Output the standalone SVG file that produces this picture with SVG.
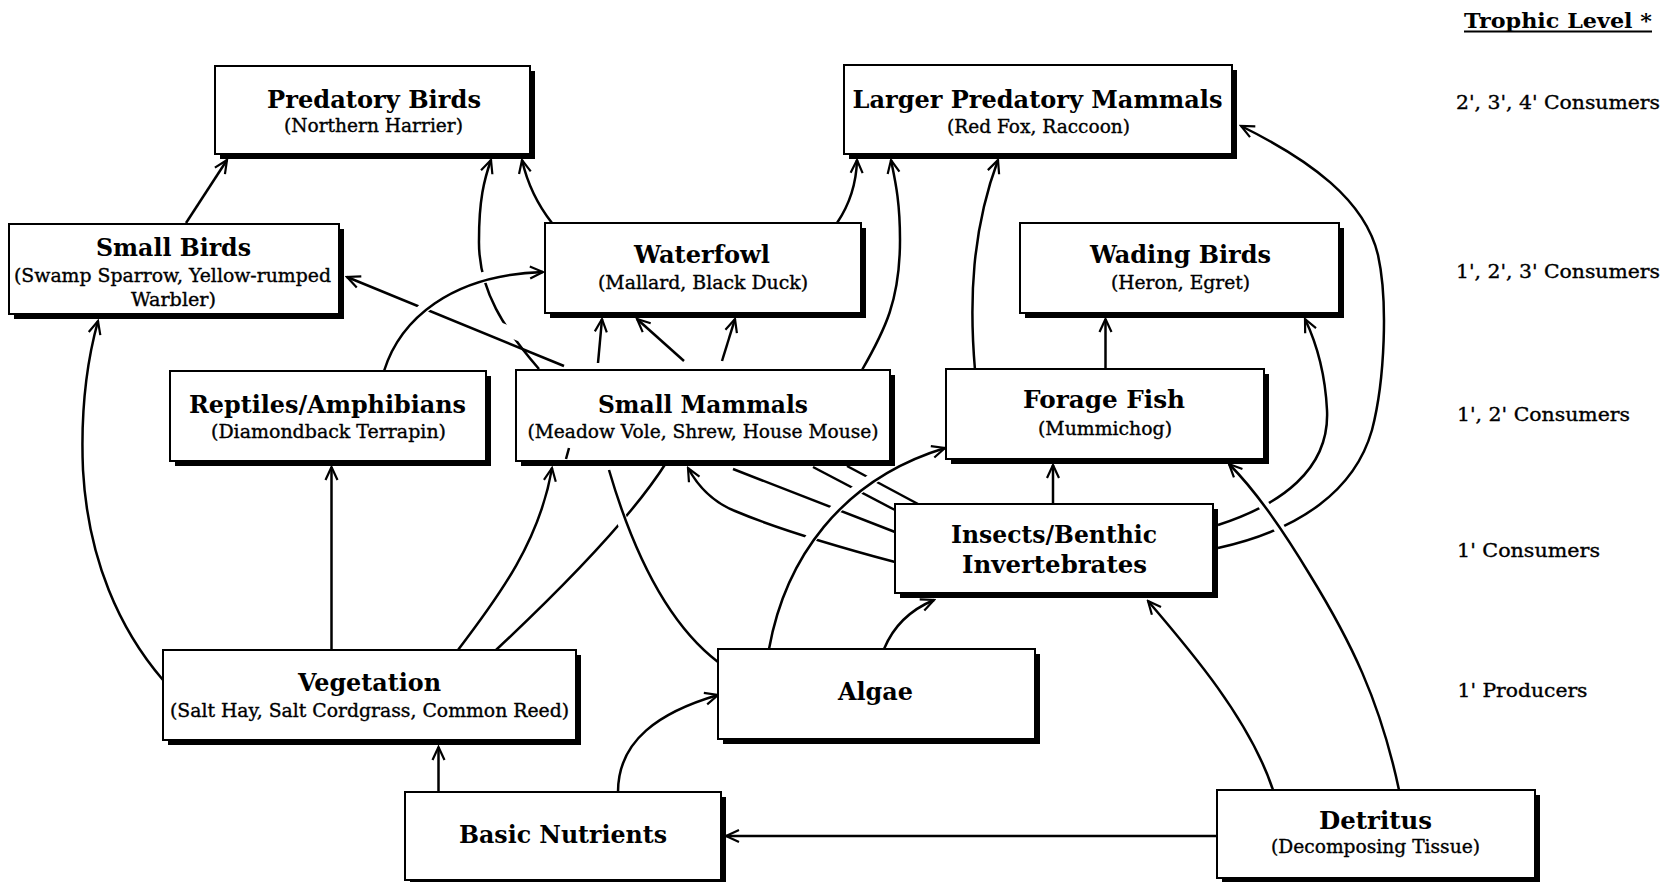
<svg xmlns="http://www.w3.org/2000/svg" width="1667" height="882" viewBox="0 0 1667 882">
<style>
.t{font-family:"DejaVu Serif","Liberation Serif",serif;font-weight:bold;font-size:24px;fill:#000}
.s{font-family:"DejaVu Serif","Liberation Serif",serif;font-size:17.8px;fill:#000;stroke:#000;stroke-width:0.35}
.r{font-family:"DejaVu Serif","Liberation Serif",serif;font-size:18.5px;fill:#000;stroke:#000;stroke-width:0.35}
.h{font-family:"DejaVu Serif","Liberation Serif",serif;font-weight:bold;font-size:19.5px;fill:#000}
.sh{fill:#000}
.bx{fill:#fff;stroke:#000;stroke-width:2}
.ln{fill:none;stroke:#000;stroke-width:2.5}
.ar{marker-end:url(#ah)}
.cas{fill:none;stroke:#fff;stroke-width:11}
</style>
<defs>
<marker id="ah" viewBox="-15 -8 17 16" refX="0" refY="0" markerWidth="17" markerHeight="16" orient="auto" markerUnits="userSpaceOnUse">
<path d="M-13,-6 L0,0 L-13,6" fill="none" stroke="#000" stroke-width="2.2"/>
</marker>
</defs>
<rect width="1667" height="882" fill="#fff"/>

<g id="connectors">
<path class="ln ar" d="M186,223 L227,160"/>
<path class="ln ar" d="M163,680 C120,630 88,560 83,470 C80,400 90,350 98,321"/>
<path class="ln ar" d="M539,369 C505,330 478,290 479,240 C479,200 484,180 491,160"/>
<path class="ln ar" d="M552,223 Q530,195 522,160"/>
<path class="ln ar" d="M598,363 L602,319"/>
<path class="ln ar" d="M684,361 L637,319"/>
<path class="ln ar" d="M722,361 L735,319"/>
<path class="ln ar" d="M837,223 Q856,195 857,160"/>
<path class="ln ar" d="M862,370 C885,330 900,300 900,240 C900,200 895,180 891,160"/>
<path class="ln ar" d="M975,370 C969,300 972,230 998,160"/>
<path class="ln ar" d="M1105.5,369 L1105.5,319"/>
<path class="ln ar" d="M1218,525 C1280,505 1330,470 1327,410 C1325,370 1315,340 1305,319"/>
<path class="ln ar" d="M1218,548 C1300,530 1355,490 1372,430 C1385,380 1388,300 1378,255 C1365,200 1310,160 1241,126"/>
<path class="ln ar" d="M1053,504 L1053,465"/>
<path class="ln ar" d="M1273,790 C1250,720 1190,650 1148,601"/>
<path class="ln ar" d="M1217,836 L726,836"/>
<path class="ln ar" d="M438.5,792 L438.5,747"/>
<path class="ln ar" d="M618,792 C618,740 660,712 718,695"/>
<path class="ln ar" d="M331.5,650 L331.5,467"/>
<path class="ln ar" d="M458,650 C500,595 540,540 552,468"/>
<path class="ln" d="M496,650 C560,590 630,520 666,463"/>
<path class="ln ar" d="M895,562 C850,550 780,530 735,511 C715,503 700,490 688,468"/>
<path class="ln" d="M895,532 L733,469"/>
<path class="ln" d="M895,510 L813,467"/>
<path class="ln" d="M918,504 L847,466"/>
<path class="cas" d="M520,336 L400,287"/>
<path class="ln ar" d="M564,366 L347,277"/>
<path class="cas" d="M395,345 C420,300 460,276 520,272"/>
<path class="ln ar" d="M384,371 C400,320 450,275 543,272"/>
<path class="cas" d="M700,645 Q650,606 615,500"/>
<path class="ln" d="M718,662 Q650,610 609,470"/>
<path class="cas" d="M785,590 C800,540 850,480 920,455"/>
<path class="ln ar" d="M769,649 C785,560 840,480 945,448"/>
<path class="cas" d="M1340,650 C1320,600 1290,540 1260,500"/>
<path class="ln ar" d="M1399,790 C1380,700 1350,640 1310,575 C1280,525 1255,490 1229,464"/>
<path class="ln ar" d="M884,649 Q898,615 934,600"/>
</g>

<g id="predatory-birds">
<rect class="sh" x="220" y="71" width="315" height="88"/>
<rect class="bx" x="215" y="66" width="315" height="88"/>
<text class="t" x="267" y="108" textLength="214" lengthAdjust="spacingAndGlyphs">Predatory Birds</text>
<text class="s" x="284" y="132" textLength="179" lengthAdjust="spacingAndGlyphs">(Northern Harrier)</text>
</g>
<g id="larger-predatory-mammals">
<rect class="sh" x="849" y="70" width="388" height="89"/>
<rect class="bx" x="844" y="65" width="388" height="89"/>
<text class="t" x="852.5" y="108" textLength="370" lengthAdjust="spacingAndGlyphs">Larger Predatory Mammals</text>
<text class="s" x="947" y="133" textLength="183" lengthAdjust="spacingAndGlyphs">(Red Fox, Raccoon)</text>
</g>
<g id="small-birds">
<rect class="sh" x="14" y="229" width="330" height="90"/>
<rect class="bx" x="9" y="224" width="330" height="90"/>
<text class="t" x="96" y="256" textLength="155" lengthAdjust="spacingAndGlyphs">Small Birds</text>
<text class="s" x="14" y="282" textLength="317" lengthAdjust="spacingAndGlyphs">(Swamp Sparrow, Yellow-rumped</text>
<text class="s" x="131" y="306" textLength="85" lengthAdjust="spacingAndGlyphs">Warbler)</text>
</g>
<g id="waterfowl">
<rect class="sh" x="550" y="228" width="316" height="90"/>
<rect class="bx" x="545" y="223" width="316" height="90"/>
<text class="t" x="634" y="263" textLength="136" lengthAdjust="spacingAndGlyphs">Waterfowl</text>
<text class="s" x="598" y="289" textLength="210" lengthAdjust="spacingAndGlyphs">(Mallard, Black Duck)</text>
</g>
<g id="wading-birds">
<rect class="sh" x="1025" y="228" width="319" height="90"/>
<rect class="bx" x="1020" y="223" width="319" height="90"/>
<text class="t" x="1090" y="263" textLength="181" lengthAdjust="spacingAndGlyphs">Wading Birds</text>
<text class="s" x="1111" y="289" textLength="139" lengthAdjust="spacingAndGlyphs">(Heron, Egret)</text>
</g>
<g id="reptiles-amphibians">
<rect class="sh" x="175" y="376" width="316" height="90"/>
<rect class="bx" x="170" y="371" width="316" height="90"/>
<text class="t" x="189" y="413" textLength="277" lengthAdjust="spacingAndGlyphs">Reptiles/Amphibians</text>
<text class="s" x="211" y="438" textLength="235" lengthAdjust="spacingAndGlyphs">(Diamondback Terrapin)</text>
</g>
<g id="small-mammals">
<rect class="sh" x="521" y="375" width="374" height="91"/>
<rect class="bx" x="516" y="370" width="374" height="91"/>
<text class="t" x="598" y="413" textLength="210" lengthAdjust="spacingAndGlyphs">Small Mammals</text>
<text class="s" x="527.5" y="438" textLength="351" lengthAdjust="spacingAndGlyphs">(Meadow Vole, Shrew, House Mouse)</text>
<path class="ln" d="M569,448 L566,459" stroke-width="2"/>
</g>
<g id="forage-fish">
<rect class="sh" x="951" y="374" width="318" height="90"/>
<rect class="bx" x="946" y="369" width="318" height="90"/>
<text class="t" x="1023" y="408" textLength="162" lengthAdjust="spacingAndGlyphs">Forage Fish</text>
<text class="s" x="1038" y="435" textLength="134" lengthAdjust="spacingAndGlyphs">(Mummichog)</text>
</g>
<g id="insects-benthic-invertebrates">
<rect class="sh" x="900" y="509" width="318" height="89"/>
<rect class="bx" x="895" y="504" width="318" height="89"/>
<text class="t" x="951" y="543" textLength="206" lengthAdjust="spacingAndGlyphs">Insects/Benthic</text>
<text class="t" x="962" y="573" textLength="185" lengthAdjust="spacingAndGlyphs">Invertebrates</text>
</g>
<g id="vegetation">
<rect class="sh" x="168" y="655" width="413" height="90"/>
<rect class="bx" x="163" y="650" width="413" height="90"/>
<text class="t" x="298" y="691" textLength="143" lengthAdjust="spacingAndGlyphs">Vegetation</text>
<text class="s" x="170" y="717" textLength="399" lengthAdjust="spacingAndGlyphs">(Salt Hay, Salt Cordgrass, Common Reed)</text>
</g>
<g id="algae">
<rect class="sh" x="723" y="654" width="317" height="90"/>
<rect class="bx" x="718" y="649" width="317" height="90"/>
<text class="t" x="838" y="700" textLength="75" lengthAdjust="spacingAndGlyphs">Algae</text>
</g>
<g id="basic-nutrients">
<rect class="sh" x="410" y="797" width="316" height="88"/>
<rect class="bx" x="405" y="792" width="316" height="88"/>
<text class="t" x="459" y="843" textLength="208" lengthAdjust="spacingAndGlyphs">Basic Nutrients</text>
</g>
<g id="detritus">
<rect class="sh" x="1222" y="795" width="318" height="88"/>
<rect class="bx" x="1217" y="790" width="318" height="88"/>
<text class="t" x="1319" y="829" textLength="113" lengthAdjust="spacingAndGlyphs">Detritus</text>
<text class="s" x="1271" y="853" textLength="209" lengthAdjust="spacingAndGlyphs">(Decomposing Tissue)</text>
</g>

<g id="trophic-levels">
<text class="h" x="1464" y="28" textLength="188" lengthAdjust="spacingAndGlyphs">Trophic Level *</text>
<rect x="1464" y="30.5" width="188" height="2" fill="#000"/>
<text class="r" x="1456" y="109" textLength="204" lengthAdjust="spacingAndGlyphs">2', 3', 4' Consumers</text>
<text class="r" x="1456" y="278" textLength="204" lengthAdjust="spacingAndGlyphs">1', 2', 3' Consumers</text>
<text class="r" x="1457" y="421" textLength="173" lengthAdjust="spacingAndGlyphs">1', 2' Consumers</text>
<text class="r" x="1457" y="557" textLength="143" lengthAdjust="spacingAndGlyphs">1' Consumers</text>
<text class="r" x="1457.5" y="697" textLength="130" lengthAdjust="spacingAndGlyphs">1' Producers</text>
</g>
</svg>
